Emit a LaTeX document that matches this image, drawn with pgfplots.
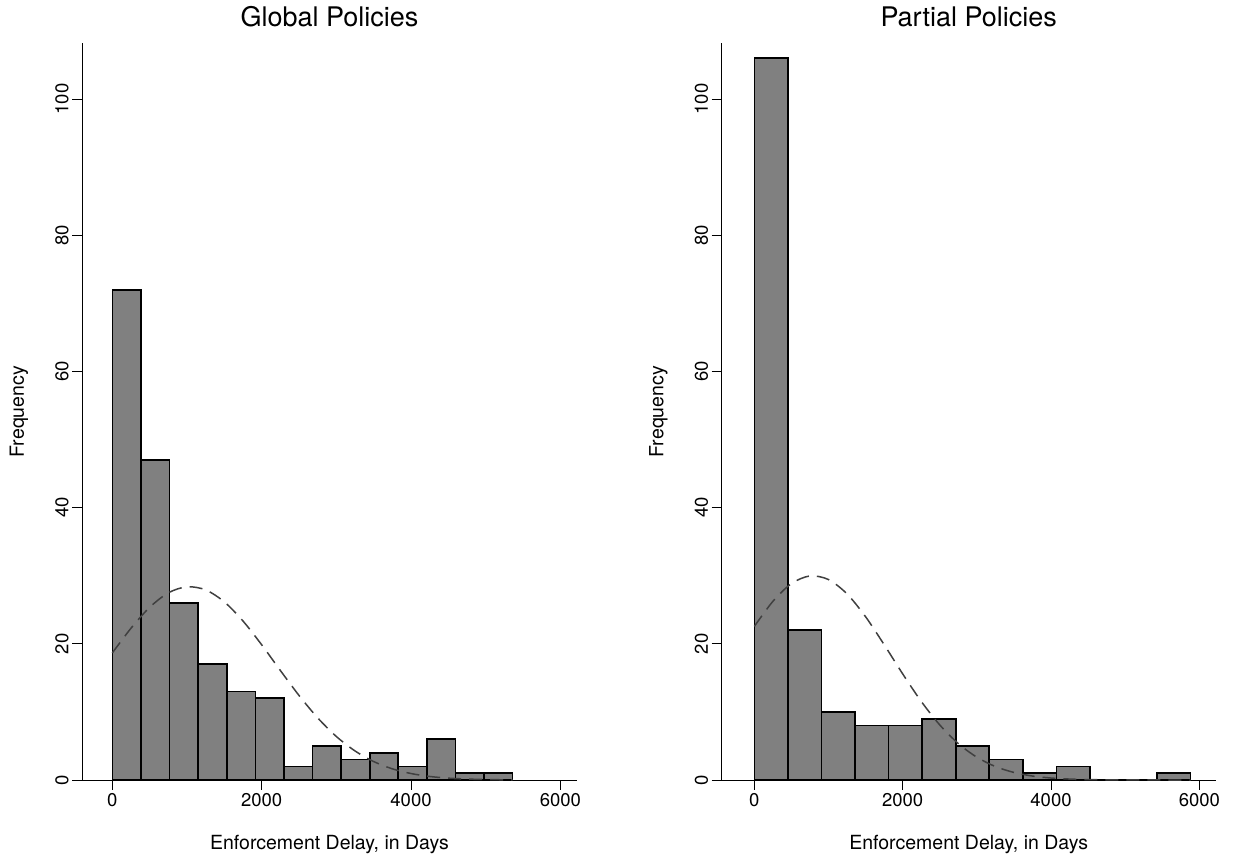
\documentclass[border=0pt]{standalone}
\usepackage{fontspec}
\setmainfont{TeX Gyre Heros}
\usepackage{pgfplots}
\pgfplotsset{compat=1.18}
\definecolor{barfill}{RGB}{128,128,128}
\definecolor{curvecol}{RGB}{64,64,64}
\pgfplotsset{
  histo/.style={
    scale only axis, height=736.7pt,
    ymin=0, ymax=108.2,
    axis lines=left, axis line style={-, line width=1pt, black},
    tick align=outside, major tick length=10pt, tick style={line width=1pt, black},
    xtick={0,2000,4000,6000}, ytick={0,20,...,100},
    scaled x ticks=false, scaled y ticks=false,
    /pgf/number format/1000 sep={}, /pgf/number format/assume math mode=true,
    tick label style={font=\fontsize{18.5}{18.5}\selectfont},
    yticklabel style={rotate=90, anchor=south},
    label style={font=\fontsize{19.5}{20}\selectfont},
    xlabel={Enforcement Delay, in Days}, ylabel={Frequency},
    xlabel style={at={(axis description cs:0.5,-0.0937)}, anchor=base},
    ylabel style={at={(axis description cs:-0.118,0.5)}, anchor=base},
    title style={font=\fontsize{27}{28}\selectfont, at={(axis description cs:0.5,1.015)}, anchor=base},
    clip=false,
  },
  bars/.style={ybar interval, fill=barfill, draw=black, line width=1.6pt},
  normcurve/.style={curvecol, line width=1.5pt, dash pattern=on 13pt off 8pt, smooth},
}
\begin{document}
\begin{tikzpicture}
\path[use as bounding box] (0,0) rectangle (1244pt,862pt);
\begin{axis}[histo, at={(82.3pt,82pt)}, anchor=south west, width=494.4pt,
  xmin=-402, xmax=6219, title={Global Policies}]
\addplot[bars] coordinates {
 (0,72) (383,47) (766,26) (1149,17) (1532,13) (1915,12) (2298,2)
 (2681,5) (3064,3) (3447,4) (3829,2) (4212,6) (4595,1) (4978,1) (5361,1)};
\addplot[normcurve] coordinates {
 (0,18.66) (250,22.29) (500,25.36) (750,27.49) (1000,28.38) (1250,27.92)
 (1500,26.16) (1750,23.35) (2000,19.86) (2250,16.09) (2500,12.42) (2750,9.13)
 (3000,6.39) (3250,4.27) (3500,2.71) (3750,1.64) (4000,0.95) (4250,0.52)
 (4500,0.27) (4750,0.14) (5000,0.065) (5250,0.029) (5361,0.02)};
\end{axis}
\begin{axis}[histo, at={(721.7pt,82pt)}, anchor=south west, width=494pt,
  xmin=-440, xmax=6221, title={Partial Policies}]
\addplot[bars] coordinates {
 (0,106) (452.5,22) (905,10) (1357.5,8) (1810,8) (2262.5,9) (2715,5)
 (3167.5,3) (3620,1) (4072.5,2) (4525,0) (4977.5,0) (5430,1) (5882.5,1)};
\addplot[normcurve] coordinates {
 (0,22.56) (250,26.24) (500,28.85) (750,29.97) (1000,29.44) (1250,27.33)
 (1500,23.98) (1750,19.88) (2000,15.59) (2250,11.55) (2500,8.09) (2750,5.35)
 (3000,3.35) (3250,1.98) (3500,1.11) (3750,0.58) (4000,0.29) (4250,0.14)
 (4500,0.06) (4750,0.025) (5000,0.01) (5500,0) (5883,0)};
\end{axis}
\end{tikzpicture}
\end{document}
